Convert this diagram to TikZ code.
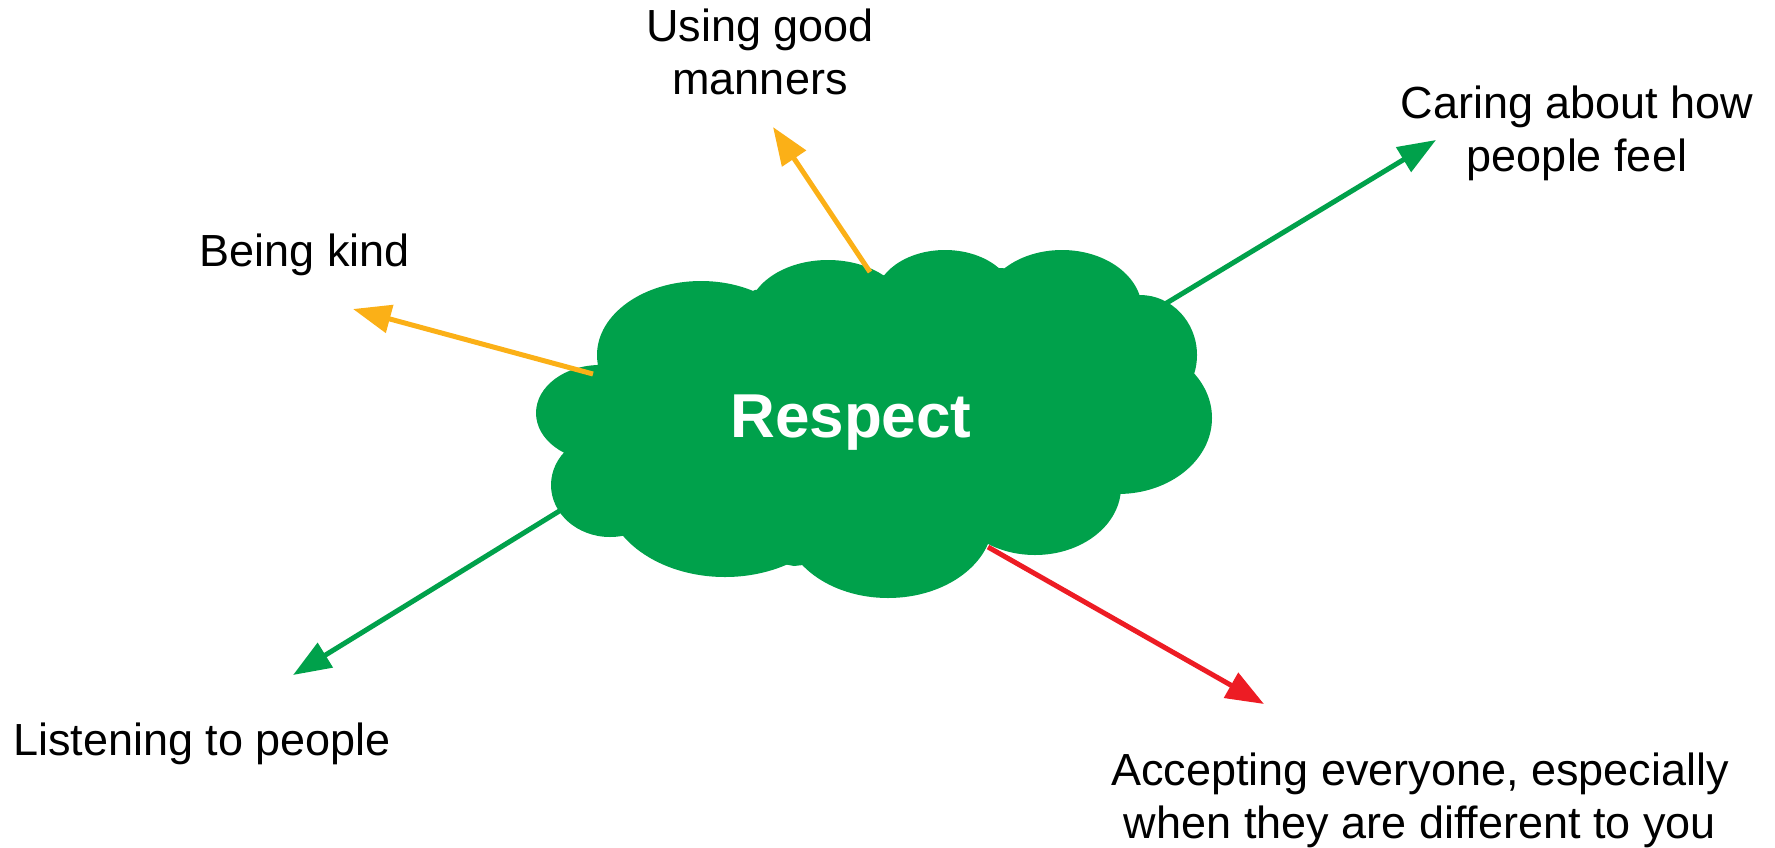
\documentclass[tikz,border=0pt]{standalone}
\usepackage{fontspec}
\setmainfont{Liberation Sans}
\usetikzlibrary{arrows.meta}
\definecolor{leafgreen}{RGB}{0,161,75}
\definecolor{amber}{RGB}{251,176,23}
\definecolor{brightred}{RGB}{237,28,36}

\begin{document}
\begin{tikzpicture}[x = 1pt, y = -1pt,
        pointer/.style = {line width = 5pt, -{Triangle[length = 38pt 0, width = 28pt 0]}},
        idea/.style = {inner sep = 0pt, align = center, font = \fontsize{45}{53}\selectfont}]
        \useasboundingbox (0, 0) rectangle (1775, 847);
        % cloud puffs
        \fill[leafgreen] (701, 355) ellipse [x radius = 104, y radius = 74];
        \fill[leafgreen] (828, 315) ellipse [x radius = 80, y radius = 55];
        \fill[leafgreen] (945, 300) ellipse [x radius = 70, y radius = 50];
        \fill[leafgreen] (1062, 310) ellipse [x radius = 80, y radius = 60];
        \fill[leafgreen] (1140, 355) ellipse [x radius = 57, y radius = 60];
        \fill[leafgreen] (1118, 418) ellipse [x radius = 94, y radius = 76];
        \fill[leafgreen] (1035, 487) ellipse [x radius = 86, y radius = 68];
        \fill[leafgreen] (888, 520) ellipse [x radius = 105, y radius = 78];
        \fill[leafgreen] (725, 490) ellipse [x radius = 120, y radius = 87];
        \fill[leafgreen] (610, 485) ellipse [x radius = 59, y radius = 52];
        \fill[leafgreen] (600, 413) ellipse [x radius = 64, y radius = 48];
        \fill[leafgreen] (597, 365) -- (755, 290) -- (887, 275) -- (1002, 268) -- (1135, 293) -- (1191, 374)
            -- (1121, 492) -- (983, 545) -- (794, 566) -- (628, 535) -- (567, 455) -- cycle;
        \node[anchor = base, inner sep = 0pt, text = white, font = \bfseries\fontsize{62}{74}\selectfont] (respect) at (851, 437){Respect};

        % labels
        \node[idea, anchor = base] (kind) at (305, 266){Being kind};
        \node[idea, anchor = north] (manners) at (760, 9){Using good\\manners};
        \node[idea, anchor = north] (caring) at (1577, 86){Caring about how\\people feel};
        \node[idea, anchor = base] (listening) at (202, 755){Listening to people};
        \node[idea, anchor = north] (accepting) at (1420, 753){Accepting everyone, especially\\when they are different to you};

        % arrows
        \coordinate (kindfrom) at (593, 374);
        \coordinate (kindto) at (353, 309);
        \coordinate (mannersfrom) at (870, 272);
        \coordinate (mannersto) at (773, 127);
        \coordinate (caringfrom) at (1165, 304);
        \coordinate (caringto) at (1436, 140);
        \coordinate (listeningfrom) at (561, 510);
        \coordinate (listeningto) at (293, 675);
        \coordinate (acceptingfrom) at (988, 547);
        \coordinate (acceptingto) at (1264, 704);
        \draw[pointer, amber] (kindfrom) -- (kindto);
        \draw[pointer, amber] (mannersfrom) -- (mannersto);
        \draw[pointer, leafgreen] (caringfrom) -- (caringto);
        \draw[pointer, leafgreen] (listeningfrom) -- (listeningto);
        \draw[pointer, brightred] (acceptingfrom) -- (acceptingto);
    \end{tikzpicture}
\end{document}
